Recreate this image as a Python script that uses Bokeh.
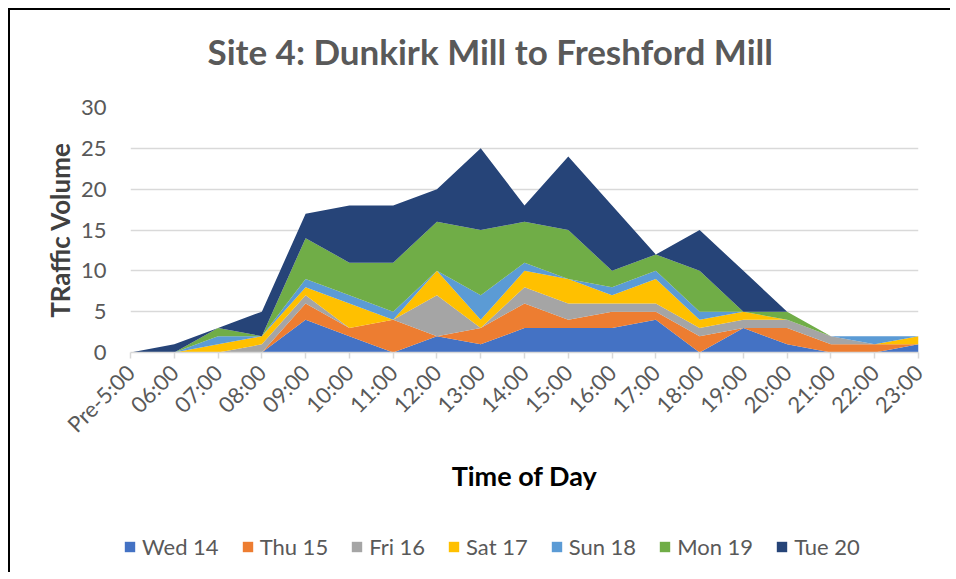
import math
from bokeh.plotting import figure
from bokeh.layouts import column
from bokeh.models import ColumnDataSource, FixedTicker, Range1d, Legend, LegendItem, Title
from bokeh.embed import file_html
from bokeh.resources import INLINE

hours = ["Pre-5:00", "06:00", "07:00", "08:00", "09:00", "10:00", "11:00", "12:00",
         "13:00", "14:00", "15:00", "16:00", "17:00", "18:00", "19:00", "20:00",
         "21:00", "22:00", "23:00"]
series = ["Wed 14", "Thu 15", "Fri 16", "Sat 17", "Sun 18", "Mon 19", "Tue 20"]
wed = [0, 0, 0, 0, 4, 2, 0, 2, 1, 3, 3, 3, 4, 0, 3, 1, 0, 0, 1]
thu = [0, 0, 0, 0, 2, 1, 4, 0, 2, 3, 1, 2, 1, 2, 0, 2, 1, 1, 0]
fri = [0, 0, 0, 1, 1, 0, 0, 5, 0, 2, 2, 1, 1, 1, 1, 1, 1, 0, 0]
sat = [0, 0, 1, 1, 1, 3, 0, 3, 1, 2, 3, 1, 3, 1, 1, 0, 0, 0, 1]
sun = [0, 0, 1, 0, 1, 1, 1, 0, 3, 1, 0, 1, 1, 1, 0, 0, 0, 1, 0]
mon = [0, 0, 1, 0, 5, 4, 6, 6, 8, 5, 6, 2, 2, 5, 0, 1, 0, 0, 0]
tue = [0, 1, 0, 3, 3, 7, 7, 4, 10, 2, 9, 8, 0, 5, 5, 0, 0, 0, 0]
colors = ["#4472C4", "#ED7D31", "#A5A5A5", "#FFC000", "#5B9BD5", "#70AD47", "#264478"]
y_ticks = [0, 5, 10, 15, 20, 25, 30]

FONT = "Lato"
GREY = "#595959"

data = {"x": list(range(len(hours)))}
for name, vals in zip(series, [wed, thu, fri, sat, sun, mon, tue]):
    data[name] = vals
src = ColumnDataSource(data)

frame_css = ("linear-gradient(#000,#000) 8px 8px / 2px 700px no-repeat, "
             "linear-gradient(#000,#000) 8px 8px / 1000px 2px no-repeat")

# ---------------- main chart ----------------
p = figure(frame_width=788, frame_height=245, output_backend="svg", toolbar_location=None,
           x_range=Range1d(0, len(hours) - 1), y_range=Range1d(0, 30),
           min_border_left=130, min_border_right=32, min_border_top=107, min_border_bottom=150)
p.outline_line_color = None
p.background_fill_color = "white"
p.border_fill_alpha = 0
p.title.text = ""
p.title.visible = False

# spacer (closest to the frame) then the chart title above it
p.add_layout(Title(text=" ", text_font_size="2px", standoff=30), "above")
p.add_layout(Title(text="Site 4: Dunkirk Mill to Freshford Mill", align="left", offset=77,
                   standoff=4, text_font=FONT, text_font_style="bold",
                   text_font_size="35px", text_color=GREY), "above")

p.varea_stack(stackers=series, x="x", color=colors, source=src)

p.xaxis.ticker = FixedTicker(ticks=list(range(len(hours))))
p.xaxis.major_label_overrides = {i: h for i, h in enumerate(hours)}
p.xaxis.major_label_orientation = math.pi / 4
p.xaxis.axis_line_color = "#D9D9D9"
p.xaxis.axis_line_width = 1.5
p.xaxis.major_tick_line_color = "#D9D9D9"
p.xaxis.major_tick_line_width = 1.5
p.xaxis.major_tick_out = 6
p.xaxis.major_tick_in = 0
p.xaxis.minor_tick_line_color = None
p.xaxis.major_label_text_font = FONT
p.xaxis.major_label_text_font_size = "22px"
p.xaxis.major_label_text_color = GREY
p.xaxis.major_label_standoff = 10
p.xaxis.axis_label = "Time of Day"
p.xaxis.axis_label_text_font = FONT
p.xaxis.axis_label_text_font_style = "bold"
p.xaxis.axis_label_text_font_size = "27px"
p.xaxis.axis_label_text_color = "black"
p.xaxis.axis_label_standoff = 9

p.yaxis.ticker = FixedTicker(ticks=y_ticks)
p.yaxis.axis_line_color = None
p.yaxis.major_tick_line_color = None
p.yaxis.minor_tick_line_color = None
p.yaxis.major_label_text_font = FONT
p.yaxis.major_label_text_font_size = "22px"
p.yaxis.major_label_text_color = GREY
p.yaxis.major_label_standoff = 18
p.yaxis.axis_label = "TRaffic Volume"
p.yaxis.axis_label_text_font = FONT
p.yaxis.axis_label_text_font_style = "bold"
p.yaxis.axis_label_text_font_size = "26px"
p.yaxis.axis_label_text_color = "#404040"
p.yaxis.axis_label_standoff = 2

p.xgrid.grid_line_color = None
p.ygrid.grid_line_color = "#D9D9D9"
p.ygrid.grid_line_width = 1.5

# ---------------- legend strip ----------------
leg = figure(frame_width=950, frame_height=70, output_backend="svg", toolbar_location=None,
             x_range=Range1d(100, 101), y_range=Range1d(100, 101),
             x_axis_location=None, y_axis_location=None,
             min_border_left=0, min_border_right=0, min_border_top=0, min_border_bottom=0)
leg.outline_line_color = None
leg.grid.grid_line_color = None
leg.background_fill_alpha = 0
leg.border_fill_alpha = 0
leg_rends = leg.varea_stack(stackers=series, x="x", color=colors, source=src)

lg = Legend(items=[LegendItem(label=s, renderers=[r]) for s, r in zip(series, leg_rends)])
lg.orientation = "horizontal"
lg.location = (123, 12)
lg.border_line_color = None
lg.background_fill_alpha = 0
lg.padding = 0
lg.margin = 0
lg.spacing = 22
lg.glyph_width = 13
lg.glyph_height = 13
lg.label_standoff = 6
lg.label_text_font = FONT
lg.label_text_font_size = "22px"
lg.label_text_color = GREY
leg.add_layout(lg, "center")

layout = column(p, leg, spacing=0, styles={"background": frame_css})

open("out.html", "w").write(file_html(layout, INLINE))
